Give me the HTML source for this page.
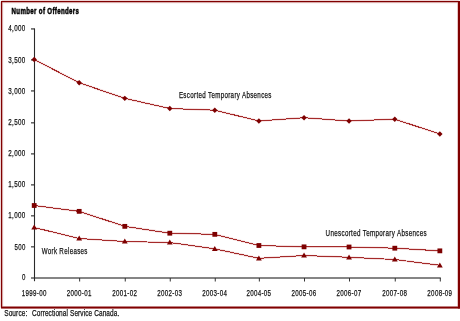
<!DOCTYPE html>
<html><head><meta charset="utf-8"><style>
html,body{margin:0;padding:0;background:#fff;width:460px;height:321px;overflow:hidden}
svg{display:block;will-change:transform}
</style></head><body>
<svg width="460" height="321" viewBox="0 0 460 321">
<rect width="460" height="321" fill="#fff"/>
<rect x="1.6" y="1.6" width="457.2" height="305.9" rx="1.5" fill="none" stroke="#c88" stroke-opacity="0.35" stroke-width="3.2"/>
<rect x="1" y="1" width="1.2" height="307" fill="#800000"/>
<rect x="1" y="1" width="458" height="1.2" fill="#800000"/>
<rect x="457.9" y="1" width="2.1" height="307.5" fill="#800000"/>
<rect x="1" y="306.6" width="459" height="1.9" fill="#800000"/>
<line x1="31" y1="277.80" x2="34.5" y2="277.80" stroke="#666" stroke-width="1.6"/>
<line x1="31" y1="246.77" x2="34.5" y2="246.77" stroke="#666" stroke-width="1.6"/>
<line x1="31" y1="215.77" x2="34.5" y2="215.77" stroke="#666" stroke-width="1.6"/>
<line x1="31" y1="184.84" x2="34.5" y2="184.84" stroke="#666" stroke-width="1.6"/>
<line x1="31" y1="153.85" x2="34.5" y2="153.85" stroke="#666" stroke-width="1.6"/>
<line x1="31" y1="122.77" x2="34.5" y2="122.77" stroke="#666" stroke-width="1.6"/>
<line x1="31" y1="90.90" x2="34.5" y2="90.90" stroke="#666" stroke-width="1.6"/>
<line x1="31" y1="59.90" x2="34.5" y2="59.90" stroke="#666" stroke-width="1.6"/>
<line x1="31" y1="28.90" x2="34.5" y2="28.90" stroke="#666" stroke-width="1.6"/>
<line x1="31" y1="277.9" x2="440.80" y2="277.9" stroke="#858585" stroke-width="2"/>
<line x1="79.65" y1="278" x2="79.65" y2="281.5" stroke="#333" stroke-width="1"/>
<line x1="125.25" y1="278" x2="125.25" y2="281.5" stroke="#333" stroke-width="1"/>
<line x1="170.25" y1="278" x2="170.25" y2="281.5" stroke="#333" stroke-width="1"/>
<line x1="215.25" y1="278" x2="215.25" y2="281.5" stroke="#333" stroke-width="1"/>
<line x1="259.35" y1="278" x2="259.35" y2="281.5" stroke="#333" stroke-width="1"/>
<line x1="304.50" y1="278" x2="304.50" y2="281.5" stroke="#333" stroke-width="1"/>
<line x1="349.50" y1="278" x2="349.50" y2="281.5" stroke="#333" stroke-width="1"/>
<line x1="395.25" y1="278" x2="395.25" y2="281.5" stroke="#333" stroke-width="1"/>
<line x1="440.30" y1="278" x2="440.30" y2="281.5" stroke="#333" stroke-width="1"/>
<line x1="34.5" y1="28.40" x2="34.5" y2="281.2" stroke="#2a2a2a" stroke-width="1.1"/>
<polyline points="34.20,59.50 79.20,82.75 124.80,98.35 169.80,108.50 214.80,110.20 258.90,121.00 304.05,117.70 349.05,121.00 394.80,119.20 439.85,134.00" fill="none" stroke="#c86464" stroke-opacity="0.28" stroke-width="2.2"/>
<polyline points="34.20,59.50 79.20,82.75 124.80,98.35 169.80,108.50 214.80,110.20 258.90,121.00 304.05,117.70 349.05,121.00 394.80,119.20 439.85,134.00" fill="none" stroke="#a52a2a" stroke-width="1.0" shape-rendering="crispEdges"/>
<polyline points="34.20,205.50 79.20,211.35 124.80,226.35 169.80,233.20 214.80,234.35 258.90,245.50 304.05,246.85 349.05,247.00 394.80,248.20 439.85,250.85" fill="none" stroke="#c86464" stroke-opacity="0.28" stroke-width="2.2"/>
<polyline points="34.20,205.50 79.20,211.35 124.80,226.35 169.80,233.20 214.80,234.35 258.90,245.50 304.05,246.85 349.05,247.00 394.80,248.20 439.85,250.85" fill="none" stroke="#a52a2a" stroke-width="1.0" shape-rendering="crispEdges"/>
<polyline points="34.20,227.50 79.20,238.50 124.80,241.50 169.80,242.50 214.80,248.80 258.90,258.30 304.05,255.50 349.05,257.30 394.80,259.50 439.85,265.30" fill="none" stroke="#c86464" stroke-opacity="0.28" stroke-width="2.2"/>
<polyline points="34.20,227.50 79.20,238.50 124.80,241.50 169.80,242.50 214.80,248.80 258.90,258.30 304.05,255.50 349.05,257.30 394.80,259.50 439.85,265.30" fill="none" stroke="#a52a2a" stroke-width="1.0" shape-rendering="crispEdges"/>
<path d="M34.20 56.80 L36.90 59.50 L34.20 62.20 L31.50 59.50Z" fill="#7d0000"/>
<path d="M79.20 80.05 L81.90 82.75 L79.20 85.45 L76.50 82.75Z" fill="#7d0000"/>
<path d="M124.80 95.65 L127.50 98.35 L124.80 101.05 L122.10 98.35Z" fill="#7d0000"/>
<path d="M169.80 105.80 L172.50 108.50 L169.80 111.20 L167.10 108.50Z" fill="#7d0000"/>
<path d="M214.80 107.50 L217.50 110.20 L214.80 112.90 L212.10 110.20Z" fill="#7d0000"/>
<path d="M258.90 118.30 L261.60 121.00 L258.90 123.70 L256.20 121.00Z" fill="#7d0000"/>
<path d="M304.05 115.00 L306.75 117.70 L304.05 120.40 L301.35 117.70Z" fill="#7d0000"/>
<path d="M349.05 118.30 L351.75 121.00 L349.05 123.70 L346.35 121.00Z" fill="#7d0000"/>
<path d="M394.80 116.50 L397.50 119.20 L394.80 121.90 L392.10 119.20Z" fill="#7d0000"/>
<path d="M439.85 131.30 L442.55 134.00 L439.85 136.70 L437.15 134.00Z" fill="#7d0000"/>
<rect x="31.80" y="203.10" width="4.8" height="4.8" fill="#7d0000"/>
<rect x="76.80" y="208.95" width="4.8" height="4.8" fill="#7d0000"/>
<rect x="122.40" y="223.95" width="4.8" height="4.8" fill="#7d0000"/>
<rect x="167.40" y="230.80" width="4.8" height="4.8" fill="#7d0000"/>
<rect x="212.40" y="231.95" width="4.8" height="4.8" fill="#7d0000"/>
<rect x="256.50" y="243.10" width="4.8" height="4.8" fill="#7d0000"/>
<rect x="301.65" y="244.45" width="4.8" height="4.8" fill="#7d0000"/>
<rect x="346.65" y="244.60" width="4.8" height="4.8" fill="#7d0000"/>
<rect x="392.40" y="245.80" width="4.8" height="4.8" fill="#7d0000"/>
<rect x="437.45" y="248.45" width="4.8" height="4.8" fill="#7d0000"/>
<path d="M34.20 224.60 L37.10 229.60 L31.30 229.60Z" fill="#7d0000"/>
<path d="M79.20 235.60 L82.10 240.60 L76.30 240.60Z" fill="#7d0000"/>
<path d="M124.80 238.60 L127.70 243.60 L121.90 243.60Z" fill="#7d0000"/>
<path d="M169.80 239.60 L172.70 244.60 L166.90 244.60Z" fill="#7d0000"/>
<path d="M214.80 245.90 L217.70 250.90 L211.90 250.90Z" fill="#7d0000"/>
<path d="M258.90 255.40 L261.80 260.40 L256.00 260.40Z" fill="#7d0000"/>
<path d="M304.05 252.60 L306.95 257.60 L301.15 257.60Z" fill="#7d0000"/>
<path d="M349.05 254.40 L351.95 259.40 L346.15 259.40Z" fill="#7d0000"/>
<path d="M394.80 256.60 L397.70 261.60 L391.90 261.60Z" fill="#7d0000"/>
<path d="M439.85 262.40 L442.75 267.40 L436.95 267.40Z" fill="#7d0000"/>
<text x="25.6" y="280" text-anchor="end" font-size="9.4" font-family="Liberation Sans, sans-serif" fill="#111" stroke="#111" stroke-width="0.25" letter-spacing="0.5" textLength="3.72" lengthAdjust="spacingAndGlyphs">0</text>
<text x="25.6" y="250" text-anchor="end" font-size="9.4" font-family="Liberation Sans, sans-serif" fill="#111" stroke="#111" stroke-width="0.25" letter-spacing="0.5" textLength="11.07" lengthAdjust="spacingAndGlyphs">500</text>
<text x="25.6" y="218" text-anchor="end" font-size="9.4" font-family="Liberation Sans, sans-serif" fill="#111" stroke="#111" stroke-width="0.25" letter-spacing="0.5" textLength="17.30" lengthAdjust="spacingAndGlyphs">1,000</text>
<text x="25.6" y="187" text-anchor="end" font-size="9.4" font-family="Liberation Sans, sans-serif" fill="#111" stroke="#111" stroke-width="0.25" letter-spacing="0.5" textLength="17.30" lengthAdjust="spacingAndGlyphs">1,500</text>
<text x="25.6" y="156" text-anchor="end" font-size="9.4" font-family="Liberation Sans, sans-serif" fill="#111" stroke="#111" stroke-width="0.25" letter-spacing="0.5" textLength="17.30" lengthAdjust="spacingAndGlyphs">2,000</text>
<text x="25.6" y="125" text-anchor="end" font-size="9.4" font-family="Liberation Sans, sans-serif" fill="#111" stroke="#111" stroke-width="0.25" letter-spacing="0.5" textLength="17.30" lengthAdjust="spacingAndGlyphs">2,500</text>
<text x="25.6" y="94" text-anchor="end" font-size="9.4" font-family="Liberation Sans, sans-serif" fill="#111" stroke="#111" stroke-width="0.25" letter-spacing="0.5" textLength="17.30" lengthAdjust="spacingAndGlyphs">3,000</text>
<text x="25.6" y="63" text-anchor="end" font-size="9.4" font-family="Liberation Sans, sans-serif" fill="#111" stroke="#111" stroke-width="0.25" letter-spacing="0.5" textLength="17.30" lengthAdjust="spacingAndGlyphs">3,500</text>
<text x="25.6" y="31" text-anchor="end" font-size="9.4" font-family="Liberation Sans, sans-serif" fill="#111" stroke="#111" stroke-width="0.25" letter-spacing="0.5" textLength="17.30" lengthAdjust="spacingAndGlyphs">4,000</text>
<text x="21.70" y="296.0" font-size="9.4" font-family="Liberation Sans, sans-serif" fill="#111" stroke="#111" stroke-width="0.25" letter-spacing="0.5" textLength="25.0" lengthAdjust="spacingAndGlyphs">1999-00</text>
<text x="66.70" y="296.0" font-size="9.4" font-family="Liberation Sans, sans-serif" fill="#111" stroke="#111" stroke-width="0.25" letter-spacing="0.5" textLength="25.0" lengthAdjust="spacingAndGlyphs">2000-01</text>
<text x="112.30" y="296.0" font-size="9.4" font-family="Liberation Sans, sans-serif" fill="#111" stroke="#111" stroke-width="0.25" letter-spacing="0.5" textLength="25.0" lengthAdjust="spacingAndGlyphs">2001-02</text>
<text x="157.30" y="296.0" font-size="9.4" font-family="Liberation Sans, sans-serif" fill="#111" stroke="#111" stroke-width="0.25" letter-spacing="0.5" textLength="25.0" lengthAdjust="spacingAndGlyphs">2002-03</text>
<text x="202.30" y="296.0" font-size="9.4" font-family="Liberation Sans, sans-serif" fill="#111" stroke="#111" stroke-width="0.25" letter-spacing="0.5" textLength="25.0" lengthAdjust="spacingAndGlyphs">2003-04</text>
<text x="246.40" y="296.0" font-size="9.4" font-family="Liberation Sans, sans-serif" fill="#111" stroke="#111" stroke-width="0.25" letter-spacing="0.5" textLength="25.0" lengthAdjust="spacingAndGlyphs">2004-05</text>
<text x="291.55" y="296.0" font-size="9.4" font-family="Liberation Sans, sans-serif" fill="#111" stroke="#111" stroke-width="0.25" letter-spacing="0.5" textLength="25.0" lengthAdjust="spacingAndGlyphs">2005-06</text>
<text x="336.55" y="296.0" font-size="9.4" font-family="Liberation Sans, sans-serif" fill="#111" stroke="#111" stroke-width="0.25" letter-spacing="0.5" textLength="25.0" lengthAdjust="spacingAndGlyphs">2006-07</text>
<text x="382.30" y="296.0" font-size="9.4" font-family="Liberation Sans, sans-serif" fill="#111" stroke="#111" stroke-width="0.25" letter-spacing="0.5" textLength="25.0" lengthAdjust="spacingAndGlyphs">2007-08</text>
<text x="427.35" y="296.0" font-size="9.4" font-family="Liberation Sans, sans-serif" fill="#111" stroke="#111" stroke-width="0.25" letter-spacing="0.5" textLength="25.0" lengthAdjust="spacingAndGlyphs">2008-09</text>
<text x="11.60" y="14.00" font-size="9.2" font-weight="bold" font-family="Liberation Sans, sans-serif" fill="#000" stroke="#000" stroke-width="0.5" letter-spacing="0.5" textLength="67.70" lengthAdjust="spacingAndGlyphs">Number of Offenders</text>
<text x="178.90" y="98.00" font-size="9.3" font-weight="normal" font-family="Liberation Sans, sans-serif" fill="#111" stroke="#111" stroke-width="0.25" letter-spacing="0.5" textLength="92.90" lengthAdjust="spacingAndGlyphs">Escorted Temporary Absences</text>
<text x="325.55" y="236.05" font-size="9.3" font-weight="normal" font-family="Liberation Sans, sans-serif" fill="#111" stroke="#111" stroke-width="0.25" letter-spacing="0.5" textLength="101.40" lengthAdjust="spacingAndGlyphs">Unescorted Temporary Absences</text>
<text x="41.70" y="254.10" font-size="9.3" font-weight="normal" font-family="Liberation Sans, sans-serif" fill="#111" stroke="#111" stroke-width="0.25" letter-spacing="0.5" textLength="46.10" lengthAdjust="spacingAndGlyphs">Work Releases</text>
<text x="4.20" y="316.15" font-size="9.3" font-weight="normal" font-family="Liberation Sans, sans-serif" fill="#111" stroke="#111" stroke-width="0.25" letter-spacing="0.15" textLength="23.20" lengthAdjust="spacingAndGlyphs">Source:</text>
<text x="31.90" y="316.15" font-size="9.3" font-weight="normal" font-family="Liberation Sans, sans-serif" fill="#111" stroke="#111" stroke-width="0.25" letter-spacing="0.15" textLength="87.50" lengthAdjust="spacingAndGlyphs">Correctional Service Canada.</text>
</svg>
</body></html>
